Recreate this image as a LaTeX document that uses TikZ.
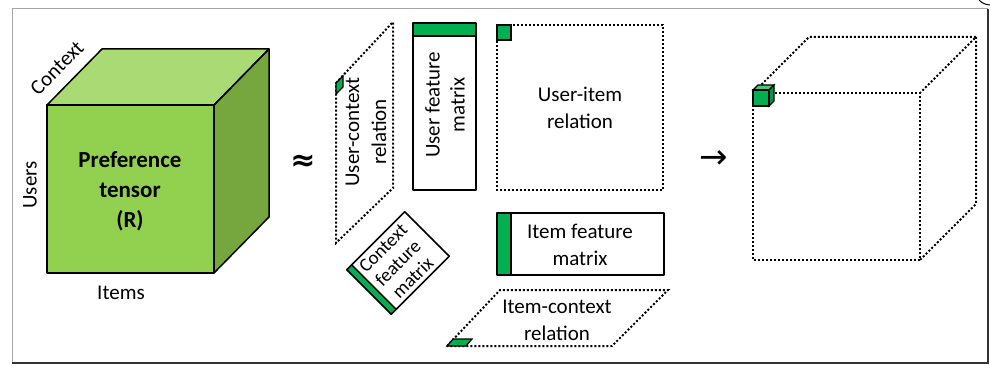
\documentclass[tikz,border=0pt]{standalone}
\usepackage{fontspec}
\setmainfont{Carlito}
\newfontfamily\symfont{DejaVu Sans}
\definecolor{tensorfront}{RGB}{146,208,80}
\definecolor{tensortop}{RGB}{169,218,116}
\definecolor{tensorside}{RGB}{118,166,62}
\definecolor{factorgreen}{RGB}{0,176,80}
\definecolor{factortop}{RGB}{70,200,120}
\definecolor{factorside}{RGB}{0,150,68}

\begin{document}
\begin{tikzpicture}[
        x=1pt, y=-1pt,
        edge/.style={draw=black, line width=1.5pt, line join=round},
        dotline/.style={draw=black, line width=2pt, dash pattern=on 2pt off 2pt},
        label/.style={font=\fontsize{21}{27}\selectfont, align=center, inner sep=0pt},
        title/.style={font=\bfseries\fontsize{23}{30}\selectfont, align=center, inner sep=0pt},
        symbol/.style={font=\symfont\fontsize{34}{34}\selectfont, inner sep=0pt}
    ]
    \useasboundingbox (0,0) rectangle (990,366);

    % Frame
    \draw[gray!70, line width=1pt] (12,363) -- (12,9) -- (988,9);
    \draw[black!80, line width=2pt] (988,9) -- (988,363) -- (12,363);
    \draw[black, line width=1pt] (979,0) to[bend right=20] (990,5);

    % Preference tensor
    \coordinate (A) at (47,105);
    \coordinate (B) at (214,105);
    \coordinate (C) at (214,273);
    \coordinate (D) at (47,273);
    \coordinate (E) at (102,49);
    \coordinate (F) at (269,49);
    \coordinate (G) at (269,217);
    \fill[tensortop] (A) -- (E) -- (F) -- (B) -- cycle;
    \fill[tensorside] (B) -- (F) -- (G) -- (C) -- cycle;
    \fill[tensorfront] (A) rectangle (C);
    \draw[edge] (A) -- (E) -- (F) -- (B) -- cycle;
    \draw[edge] (B) -- (F) -- (G) -- (C);
    \draw[edge] (A) rectangle (C);
    \node[title] (tensor) at (130,191) {Preference\\tensor\\(R)};
    \node[label, rotate=45] (context) at (57,68) {Context};
    \node[label, rotate=90] (users) at (30,185) {Users};
    \node[label] (items) at (121,293) {Items};

    \node[symbol, font=\symfont\bfseries\fontsize{30}{30}\selectfont] (approx) at (303,163) {≈};

    % User-context relation
    \coordinate (ucA) at (336,83);
    \coordinate (ucB) at (393,22);
    \coordinate (ucC) at (393,188);
    \coordinate (ucD) at (336,243);
    \draw[dotline] (ucA) -- (ucB) -- (ucC) -- (ucD) -- cycle;
    \filldraw[factorgreen, draw=black, line width=1.2pt] (ucA) -- (343,76) -- (343,87) -- (336,94) -- cycle;
    \node[label, rotate=90] (userctx) at (366,132) {User-context\\relation};

    % User feature matrix
    \fill[factorgreen] (413,23) rectangle (476,36);
    \draw[edge] (413,36) -- (476,36);
    \draw[edge] (413,23) rectangle (476,190);
    \node[label, rotate=90, font=\fontsize{21}{25}\selectfont] (usermat) at (445,105) {User feature\\matrix};

    % User-item relation
    \draw[dotline] (497,25) rectangle (663,190);
    \filldraw[factorgreen, draw=black, line width=1.2pt] (497,25) rectangle (511,40);
    \node[label] (useritem) at (580,108) {User-item\\relation};

    % Context feature matrix
    \begin{scope}[shift={(398,263)}, rotate=45]
        \fill[factorgreen] (-41,-31.5) rectangle (-34,31.5);
        \draw[edge] (-34,-31.5) -- (-34,31.5);
        \draw[edge] (-41,-31.5) rectangle (41,31.5);
        \node[label, rotate=45, font=\fontsize{19}{21}\selectfont] (ctxmat) at (0,0) {Context\\feature\\matrix};
    \end{scope}

    % Item feature matrix
    \fill[factorgreen] (497,213) rectangle (511,275);
    \draw[edge] (511,213) -- (511,275);
    \draw[edge] (497,213) rectangle (664,275);
    \node[label] (itemmat) at (580,245) {Item feature\\matrix};

    % Item-context relation
    \coordinate (icA) at (447,346);
    \coordinate (icB) at (500,290);
    \coordinate (icC) at (668,290);
    \coordinate (icD) at (612,346);
    \draw[dotline] (icA) -- (icB) -- (icC) -- (icD) -- cycle;
    \filldraw[factorgreen, draw=black, line width=1.2pt] (icA) -- (453,339) -- (472,339) -- (466,346) -- cycle;
    \node[label] (itemctx) at (557,320) {Item-context\\relation};

    \node[symbol] (result) at (714,160) {→};

    % Completed tensor
    \coordinate (P) at (753,93);
    \coordinate (Q) at (920,93);
    \coordinate (S) at (920,260);
    \coordinate (T) at (753,260);
    \coordinate (U) at (809,37);
    \coordinate (V) at (976,37);
    \coordinate (W) at (976,204);
    \draw[dotline] (P) rectangle (S);
    \draw[dotline] (P) -- (U) -- (V) -- (Q);
    \draw[dotline] (V) -- (W) -- (S);

    % Small entry cube
    \filldraw[factortop, draw=black, line width=1.2pt] (753,90) -- (758,85) -- (774,85) -- (769,90) -- cycle;
    \filldraw[factorside, draw=black, line width=1.2pt] (769,90) -- (774,85) -- (774,101) -- (769,106) -- cycle;
    \filldraw[factorgreen, draw=black, line width=1.2pt] (753,90) rectangle (769,106);

\end{tikzpicture}
\end{document}
